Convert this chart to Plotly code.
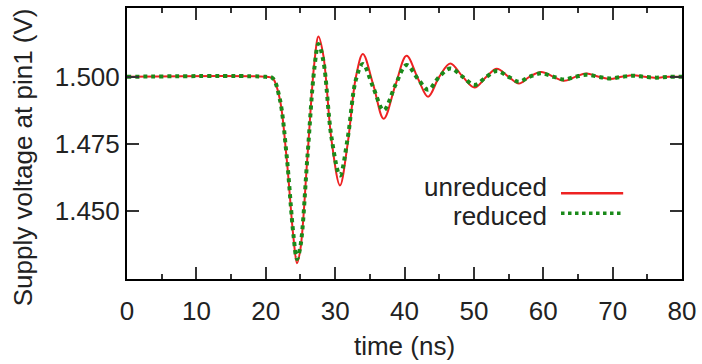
import plotly.graph_objects as go

# time (ns)
t_unred = [0, 20, 21, 22, 23, 24, 24.5, 25, 26, 27, 27.6, 28.3, 29.5, 30.7, 31.8, 33, 34, 35.5, 37,
           38.7, 40.3, 42, 43.4, 45, 46.6, 48.4, 50.1, 51.8, 53.3, 55, 56.5, 58, 59.7, 61.5, 63,
           64.6, 66.2, 68, 69.6, 71.3, 73, 74.6, 76.3, 78, 80]
v_unred = [1.500, 1.500, 1.4995, 1.492, 1.470, 1.440, 1.4307, 1.436, 1.470, 1.505, 1.5150, 1.508,
           1.476, 1.4596, 1.475, 1.500, 1.5085, 1.497, 1.4844, 1.497, 1.5078, 1.499, 1.4926, 1.500,
           1.5050, 1.500, 1.4960, 1.500, 1.5030, 1.500, 1.4975, 1.500, 1.5018, 1.500, 1.4985,
           1.500, 1.5012, 1.500, 1.4992, 1.500, 1.5006, 1.500, 1.4996, 1.500, 1.500]

t_red = t_unred
v_red = [1.500, 1.500, 1.4995, 1.492, 1.471, 1.441, 1.4322, 1.437, 1.470, 1.503, 1.5122, 1.506,
         1.477, 1.4633, 1.477, 1.499, 1.5048, 1.496, 1.4876, 1.497, 1.5044, 1.499, 1.4952, 1.500,
         1.5031, 1.500, 1.4970, 1.500, 1.5022, 1.500, 1.4982, 1.500, 1.5013, 1.500, 1.4990,
         1.500, 1.5008, 1.500, 1.4994, 1.500, 1.5004, 1.500, 1.4997, 1.500, 1.500]

x_ticks = [0, 10, 20, 30, 40, 50, 60, 70, 80]
y_ticks = [1.450, 1.475, 1.500]
y_tick_labels = ["1.450", "1.475", "1.500"]
series_names = ["unreduced", "reduced"]
x_title = "time (ns)"
y_title = "Supply voltage at pin1 (V)"

RED = "#ee2222"
GREEN = "#1a8a1a"
FONT = "Liberation Sans, Arial, sans-serif"
TXT = "#222222"

fig = go.Figure()
fig.add_trace(go.Scatter(x=t_unred, y=v_unred, mode="lines", name=series_names[0],
                         line=dict(color=RED, width=2, shape="spline", smoothing=1.0),
                         showlegend=False))
fig.add_trace(go.Scatter(x=t_red, y=v_red, mode="lines", name=series_names[1],
                         line=dict(color=GREEN, width=4, dash="dot", shape="spline", smoothing=1.0),
                         showlegend=False))

axis_common = dict(showline=True, linecolor="black", linewidth=2, mirror="ticks",
                   ticks="inside", tickcolor="#333333", tickwidth=1.5, ticklen=12,
                   showgrid=False, zeroline=False,
                   tickfont=dict(family=FONT, size=26, color=TXT))

fig.update_xaxes(range=[0, 80], tickvals=x_ticks, ticklabelstandoff=8,
                 title=dict(text=x_title, font=dict(family=FONT, size=26, color=TXT), standoff=12),
                 minor=dict(dtick=5, ticks="inside", ticklen=5, tickcolor="#333333", tickwidth=1.5),
                 **axis_common)
fig.update_yaxes(range=[1.4248, 1.5256], tickvals=y_ticks, ticktext=y_tick_labels,
                 **axis_common)

# y-axis title as an annotation (placed slightly below plot centre, as in the reference)
fig.add_annotation(x=-0.186, y=0.4485, xref="paper", yref="paper", text=y_title, showarrow=False,
                   textangle=-90, xanchor="center", yanchor="middle",
                   font=dict(family=FONT, size=26, color=TXT))

# legend drawn manually (text left of sample)
leg = [(series_names[0], 0.338, 0.316, RED, 2.5, "solid"),
       (series_names[1], 0.232, 0.243, GREEN, 3.5, "dot")]
for name, ytxt, yline, col, w, dash in leg:
    fig.add_annotation(x=0.760, y=ytxt, xref="paper", yref="paper", text=name, showarrow=False,
                       xanchor="right", yanchor="middle",
                       font=dict(family=FONT, size=26, color=TXT))
    fig.add_shape(type="line", xref="paper", yref="paper", x0=0.782, x1=0.894, y0=yline, y1=yline,
                  line=dict(color=col, width=w, dash=dash))

fig.update_layout(width=702, height=364, margin=dict(l=127, r=16, t=6, b=85),
                  plot_bgcolor="white", paper_bgcolor="white",
                  font=dict(family=FONT, size=26, color=TXT))

fig.write_html("out.html")
